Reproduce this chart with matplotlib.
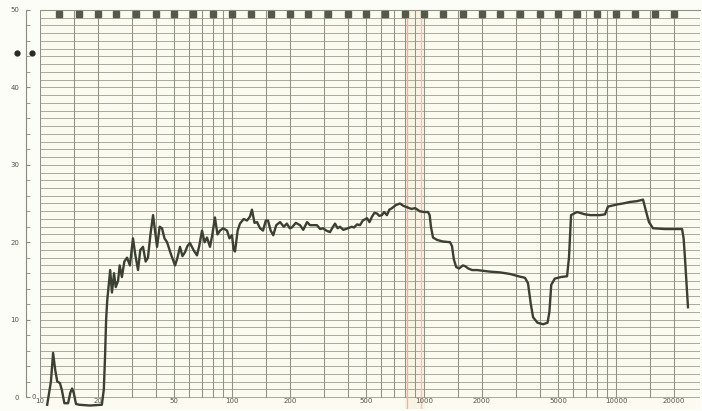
import numpy as np
import matplotlib
matplotlib.use("Agg")
import matplotlib.pyplot as plt
from matplotlib.ticker import FixedLocator, NullFormatter

# trace: frequency (Hz), level (dB)
freq_hz = [
    10.9, 11.4, 11.7, 12.0, 12.3, 12.7, 13.0, 13.4, 14.0, 14.4, 14.7, 15.0, 15.4, 16.0,
    18.2, 21.0, 21.5, 21.8, 22.1, 22.4, 22.8, 23.2, 23.7, 24.3, 24.8, 25.5, 26.0, 26.7,
    27.5, 28.4, 29.4, 30.5, 31.3, 32.4, 33.3, 34.4, 35.5, 36.5, 37.6, 38.8, 39.7, 40.7,
    42.0, 43.2, 44.5, 45.9, 48.0, 50.5, 52.0, 53.6, 55.2, 56.9, 58.6, 60.4, 63.0, 65.7,
    67.5, 69.8, 72.0, 74.1, 76.8, 79.0, 81.5, 84.0, 86.6, 90.0, 94.2, 97.0, 100, 102,
    103.7, 107, 110, 115, 119.7, 124, 127, 131, 135, 140, 145, 150, 154, 159, 164, 170,
    178, 186, 193, 200, 205, 215, 226, 235, 246, 255, 264, 277, 288, 298, 310, 324, 334,
    344, 355, 365, 380, 402, 420, 432, 448, 464, 480, 505, 520, 536, 552, 569, 585, 604,
    620, 641, 660, 681, 714, 750, 780, 820, 860, 900, 950, 1000, 1049, 1070, 1087, 1114,
    1169, 1250, 1366, 1399, 1430, 1470, 1520, 1596, 1640, 1700, 1780, 1888, 2200, 2488,
    2805, 3100, 3357, 3481, 3600, 3700, 3900, 4170, 4400, 4500, 4600, 4800, 5170, 5560,
    5690, 5834, 6266, 6900, 7328, 8254, 8764, 9085, 10240, 10870, 11830, 12850, 13830,
    14330, 14850, 15590, 17990, 20280, 22080, 22500, 22860, 23710,
]
level_db = [
    -1.0, 2.0, 5.7, 3.5, 2.0, 1.8, 0.9, -0.8, -0.8, 0.6, 1.1, 0.5, -0.9, -1.0,
    -1.1, -1.0, 1.0, 5.0, 10.0, 12.5, 14.5, 16.4, 13.5, 16.0, 14.2, 15.0, 17.0, 15.5,
    17.5, 18.0, 17.0, 20.5, 18.5, 16.4, 19.0, 19.4, 17.5, 18.0, 21.0, 23.5, 21.5, 19.4,
    22.0, 21.8, 20.5, 20.0, 18.5, 17.0, 18.0, 19.4, 18.2, 18.7, 19.5, 19.9, 19.0, 18.3,
    19.5, 21.5, 20.0, 20.6, 19.4, 21.0, 23.2, 21.0, 21.5, 21.8, 21.5, 20.5, 20.9, 19.0,
    18.8, 21.5, 22.4, 23.0, 22.8, 23.3, 24.2, 22.5, 22.6, 21.8, 21.5, 22.8, 22.8, 21.5, 20.9, 22.2,
    22.6, 22.0, 22.4, 21.8, 21.9, 22.5, 22.2, 21.6, 22.6, 22.2, 22.2, 22.2, 21.7, 21.8, 21.5, 21.3, 21.9,
    22.4, 21.8, 22.0, 21.6, 21.8, 22.0, 21.9, 22.3, 22.2, 22.8, 23.1, 22.6, 23.3, 23.8, 23.7, 23.4, 23.5,
    23.9, 23.5, 24.2, 24.4, 24.8, 25.0, 24.7, 24.5, 24.3, 24.4, 24.0, 23.9, 23.9, 23.5, 22.0, 20.6,
    20.3, 20.1, 20.0, 19.5, 17.8, 16.8, 16.6, 17.0, 16.9, 16.6, 16.4, 16.4, 16.2, 16.1,
    15.9, 15.6, 15.4, 14.7, 12.0, 10.3, 9.6, 9.4, 9.6, 11.0, 14.5, 15.3, 15.5, 15.6,
    18.0, 23.5, 23.9, 23.6, 23.5, 23.5, 23.6, 24.6, 24.9, 25.0, 25.2, 25.3, 25.5,
    24.0, 22.6, 21.8, 21.7, 21.7, 21.7, 20.5, 18.0, 11.6,
]

# printed scale of the chart paper
freq_labels = [10, 20, 50, 100, 200, 500, 1000, 2000, 5000, 10000, 20000]
db_labels = [0, 10, 20, 30, 40, 50]
third_octave = [12.5, 16, 20, 25, 31.5, 40, 50, 63, 80, 100, 125, 160, 200, 250, 315,
                400, 500, 630, 800, 1000, 1250, 1600, 2000, 2500, 3150, 4000, 5000,
                6300, 8000, 10000, 12500, 16000, 20000]

paper = "#fcfbf1"
grid_v = "#8f9381"
grid_h = "#a9ab99"
ink = "#3b4032"

fig = plt.figure(figsize=(7.02, 4.11), dpi=100)
fig.patch.set_facecolor("#fdfdf8")
ax = fig.add_axes([40 / 702, 0.0039, 660 / 702, 0.9718])
ax.set_facecolor(paper)
ax.set_xscale("log")
ax.set_xlim(10, 27384)
ax.set_ylim(-1.6, 50)

# chart-paper grid: 1 dB horizontals, log verticals
for d in range(0, 51):
    ax.axhline(d, color=grid_h, lw=0.7, zorder=1)
vlines = []
for dec in [10, 100, 1000, 10000]:
    for m in [1, 1.5, 2, 3, 4, 5, 6, 7, 8, 9]:
        if dec * m < 27384:
            vlines.append(dec * m)
for f in vlines:
    ax.axvline(f, ymin=0.03, color=grid_v, lw=0.75, zorder=1)

# faint pink reference lines around 1 kHz on the paper
ax.axvspan(800, 1000, color="#f6ead6", alpha=0.45, zorder=0)
ax.axvline(820, color="#e4b2ad", lw=0.9, zorder=1)
ax.axvline(960, color="#ecc2bc", lw=0.9, zorder=1)

# 1/3-octave marks hanging from the top edge
ax.plot(third_octave, [49.45] * len(third_octave), ls="none", marker="s",
        ms=4.2, color="#55594a", zorder=3, clip_on=False)

ax.plot(freq_hz, level_db, color=ink, lw=1.7, zorder=4, solid_joinstyle="round")

for s in ["right", "bottom"]:
    ax.spines[s].set_visible(False)
ax.spines["top"].set_color(grid_v)
ax.spines["left"].set_position(("outward", 10))
ax.spines["left"].set_bounds(0, 50)
ax.spines["left"].set_color("#8a8c7a")
ax.spines["left"].set_linewidth(0.8)

ax.set_yticks(db_labels)
ax.yaxis.set_minor_locator(FixedLocator(np.arange(0, 51, 2)))
ax.tick_params(axis="y", which="both", direction="in", length=3, color="#8a8c7a",
               labelsize=5, labelcolor="#555548", pad=5)

ax.xaxis.set_major_locator(FixedLocator(freq_labels))
ax.xaxis.set_minor_formatter(NullFormatter())
ax.set_xticklabels([str(f) for f in freq_labels])
ax.tick_params(axis="x", which="both", length=0, pad=-8, labelsize=5,
               labelcolor="#555548")

# stray pen marks at the left margin
ax.plot([-0.035, -0.012], [44.5, 44.5], transform=ax.get_yaxis_transform(),
        ls="none", marker="o", ms=3.5, color="#2a2a24", clip_on=False)
ax.text(-0.006, 0, "0", transform=ax.get_yaxis_transform(), fontsize=5,
        color="#555548", ha="right", va="center")

fig.savefig("out.png", dpi=100, facecolor=fig.get_facecolor())
